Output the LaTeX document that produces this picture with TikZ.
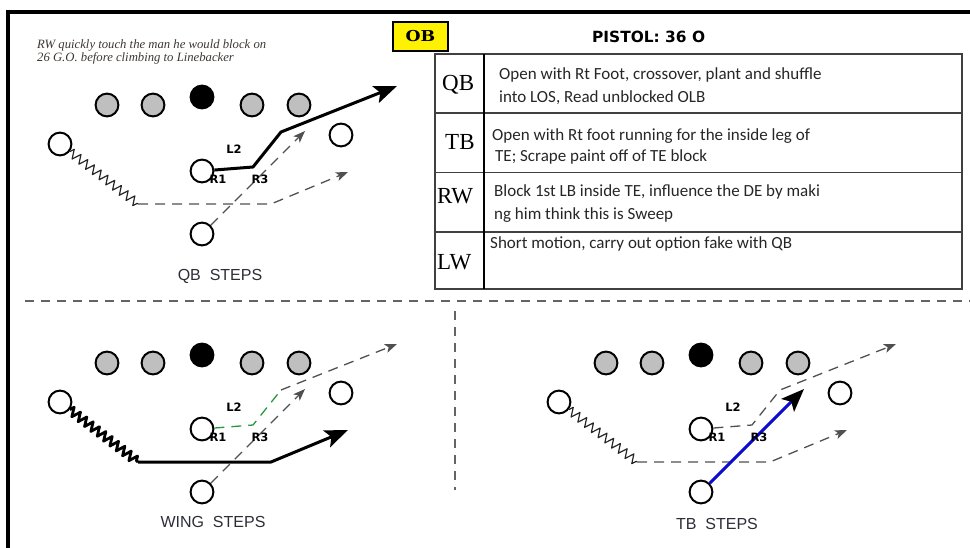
\documentclass[tikz,border=0pt]{standalone}
\usepackage{fontspec}
\setmainfont{Liberation Serif}
\newfontfamily\calibfont{Carlito}
\newfontfamily\arialfont{Liberation Sans}
\newfontfamily\dejafont{DejaVu Sans}
\newfontfamily\serifbold{DejaVu Serif}
\usetikzlibrary{arrows.meta,decorations.pathmorphing}
\definecolor{notecol}{RGB}{60,55,50}
\definecolor{labcol}{RGB}{45,45,55}
\definecolor{routecol}{RGB}{80,80,80}
\definecolor{greencol}{RGB}{40,150,60}
\definecolor{bluecol}{RGB}{10,10,210}
\definecolor{sepcol}{RGB}{100,100,100}
\tikzset{
  player/.style={circle, draw=black, line width=2pt, minimum size=22.8pt, inner sep=0pt},
  lineman/.style={player, fill=black!25},
  ctrman/.style={player, fill=black},
  openman/.style={player, fill=white},
  tag/.style={font=\dejafont\bfseries\fontsize{11.5}{13}\selectfont, inner sep=0pt},
  route/.style={draw=routecol, line width=1.3pt, dash pattern=on 10pt off 7pt, -{Stealth[length=12pt,width=9pt,inset=3pt]}},
  greenroute/.style={draw=greencol, line width=1.3pt, dash pattern=on 10pt off 7pt},
  bigarrow/.style={draw=black, line width=3pt, line join=round, -{Stealth[length=23pt,width=18pt,inset=5pt]}},
  bluearrow/.style={draw=bluecol, line width=3pt, -{Stealth[length=23pt,width=18pt,inset=5pt,color=black]}},
  zz/.style={draw=black!85, line width=1.2pt, line join=round, decorate, decoration={zigzag, segment length=8.5pt, amplitude=4.5pt}},
  zzthick/.style={draw=black, line width=2.8pt, line join=round, decorate, decoration={zigzag, segment length=8pt, amplitude=4.5pt}},
  sep/.style={draw=sepcol, line width=1.5pt, dash pattern=on 9pt off 7pt},
  rowhead/.style={anchor=base west, inner sep=0pt, font=\fontsize{23}{26}\selectfont},
  desc/.style={anchor=base west, inner sep=0pt, font=\calibfont\fontsize{17}{20}\selectfont, text=black!85},
  steplab/.style={anchor=base, inner sep=0pt, font=\arialfont\fontsize{16}{18}\selectfont, text=labcol},
  notetext/.style={anchor=base west, inner sep=0pt, font=\itshape\fontsize{12.7}{14}\selectfont, text=notecol},
}
\newcommand\playerset[3]{%
\begin{scope}[shift={(#2,#3)}]
\node[lineman] (#1g1) at (107,105) {};
\node[lineman] (#1g2) at (153,105) {};
\node[ctrman] (#1c) at (202,97) {};
\node[lineman] (#1g3) at (252,105) {};
\node[lineman] (#1g4) at (299,105) {};
\node[openman] (#1lw) at (60,144) {};
\node[openman] (#1rw) at (341,135) {};
\node[openman] (#1qb) at (202,171) {};
\node[openman] (#1tb) at (202,234) {};
\coordinate (#1k1) at (138,204);
\coordinate (#1k2) at (271,204);
\coordinate (#1k3) at (348,172);
\coordinate (#1q1) at (253,167);
\coordinate (#1q2) at (281,132);
\coordinate (#1q3) at (397,86);
\coordinate (#1t) at (305,131);
\end{scope}}
\newcommand\gaplabels[3]{%
\begin{scope}[shift={(#2,#3)}]
\node[tag] (#1l2) at (234,149) {L2};
\node[tag] (#1r1) at (218,179) {R1};
\node[tag] (#1r3) at (260,179) {R3};
\end{scope}}
\begin{document}
\begin{tikzpicture}[x=1pt,y=-1pt]
\useasboundingbox (0,0) rectangle (970,548);
% frame
\draw[line width=3.3pt] (8,560) -- (8,12) -- (980,12);
% separators
\draw[sep] (25,301) -- (970,301);
\draw[sep] (455,311) -- (455,490);
% note
\node[notetext] (note1) at (37,49) {RW quickly touch the man he would block on};
\node[notetext] (note2) at (37,62) {26 G.O. before climbing to Linebacker};
% OB box and title
\node[draw=black, fill=yellow, line width=1.2pt, minimum width=55pt, minimum height=29pt, inner sep=0pt,
      font=\serifbold\bfseries\fontsize{15}{16}\selectfont] (obbox) at (420.5,36.5) {\scalebox{1.15}[1]{OB}};
\node[anchor=base west, inner sep=0pt, font=\dejafont\bfseries\fontsize{15.4}{17}\selectfont] (title) at (592,43) {PISTOL: 36 O};
% table
\draw[draw=black!75, line width=1.5pt] (435,54) rectangle (962,289);
\draw[draw=black!75, line width=1.5pt] (435,113) -- (962,113);
\draw[draw=black!75, line width=1.5pt] (435,172.5) -- (962,172.5);
\draw[draw=black!75, line width=1.5pt] (435,232) -- (962,232);
\draw[draw=black, line width=2.5pt] (484,54) -- (484,289);
\node[rowhead] (hqb) at (442,91) {QB};
\node[rowhead] (htb) at (445,150) {TB};
\node[rowhead] (hrw) at (437,204) {RW};
\node[rowhead] (hlw) at (437,270) {LW};
\node[desc] (dqb1) at (499,80) {Open with Rt Foot, crossover, plant and shuffle};
\node[desc] (dqb2) at (499,103) {into LOS, Read unblocked OLB};
\node[desc] (dtb1) at (492,141) {Open with Rt foot running for the inside leg of};
\node[desc] (dtb2) at (495,162) {TE; Scrape paint off of TE block};
\node[desc] (drw1) at (494,197) {Block 1st LB inside TE, influence the DE by maki};
\node[desc] (drw2) at (494,220) {ng him think this is Sweep};
\node[desc] (dlw) at (490,249) {Short motion, carry out option fake with QB};
% panels
\playerset{a}{0}{0}
\playerset{b}{0}{258}
\playerset{c}{499}{258}
% panel A: QB steps
\draw[zz] (alw) -- (ak1);
\draw[route] (ak1) -- (ak2) -- (ak3);
\draw[route] (atb) -- (at);
\draw[bigarrow] (aqb) -- (aq1) -- (aq2) -- (aq3);
% panel B: wing steps
\draw[zzthick] (blw) -- (bk1);
\draw[bigarrow] (bk1) -- (bk2) -- (bk3);
\draw[greenroute] (bqb) -- (bq1) -- (bq2);
\draw[route] (bq2) -- (bq3);
\draw[route] (btb) -- (bt);
% panel C: TB steps
\draw[zz] (clw) -- (ck1);
\draw[route] (ck1) -- (ck2) -- (ck3);
\draw[route] (cqb) -- (cq1) -- (cq2) -- (cq3);
\draw[bluearrow] (ctb) -- (ct);
% gap labels
\gaplabels{a}{0}{0}
\gaplabels{b}{0}{258}
\gaplabels{c}{499}{258}
% step labels
\node[steplab] (labA) at (220,281) {QB\ \ STEPS};
\node[steplab] (labB) at (213,527) {WING\ \ STEPS};
\node[steplab] (labC) at (717,529) {TB\ \ STEPS};
\end{tikzpicture}
\end{document}
